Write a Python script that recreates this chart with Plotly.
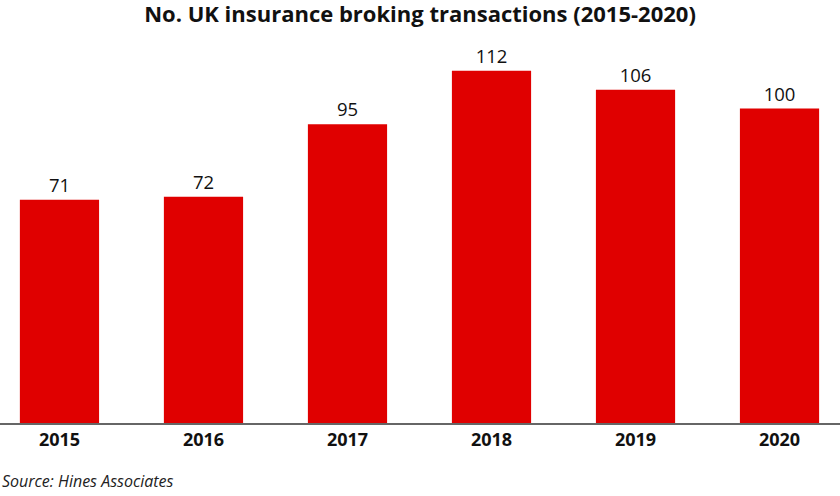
import plotly.graph_objects as go

years = ["2015", "2016", "2017", "2018", "2019", "2020"]
transactions = [71, 72, 95, 112, 106, 100]

BAR_RED = "#E00000"

fig = go.Figure()

fig.add_trace(go.Bar(
    x=years,
    y=transactions,
    marker_color=BAR_RED,
    marker_line_width=0,
    text=transactions,
    textposition="outside",
    textfont=dict(family="Open Sans", size=18.5, color="#111111"),
    cliponaxis=False,
    hovertemplate="%{x}: %{y}<extra></extra>",
))

fig.update_layout(
    width=840,
    height=496,
    margin=dict(l=0, r=0, t=30, b=73),
    paper_bgcolor="white",
    plot_bgcolor="white",
    bargap=0.45,
    showlegend=False,
    font=dict(family="Open Sans", color="#111111"),
    title=dict(
        text="<b>No. UK insurance broking transactions (2015-2020)</b>",
        x=0.5,
        xanchor="center",
        y=0.972,
        yanchor="middle",
        font=dict(family="Open Sans", size=22, color="#111111"),
    ),
    xaxis=dict(
        type="category",
        range=[-0.413, 5.42],
        showline=True,
        linecolor="#666666",
        linewidth=1.5,
        ticks="",
        showgrid=False,
        tickfont=dict(family="Open Sans", size=18, color="#111111", weight="bold"),
    ),
    yaxis=dict(
        range=[0, 125],
        visible=False,
        showgrid=False,
        zeroline=False,
    ),
    annotations=[dict(
        text="<i>Source: Hines Associates</i>",
        xref="paper", yref="paper",
        x=0, y=-0.148,
        xanchor="left", yanchor="middle",
        showarrow=False,
        font=dict(family="Open Sans", size=16, color="#222222"),
    )],
)

# the page body has a default 8px margin; drop it so the chart sits at the corner
fig.write_html(
    "out.html",
    config={"displayModeBar": False},
    post_script="document.body.style.margin='0';document.body.style.overflow='hidden';",
)
